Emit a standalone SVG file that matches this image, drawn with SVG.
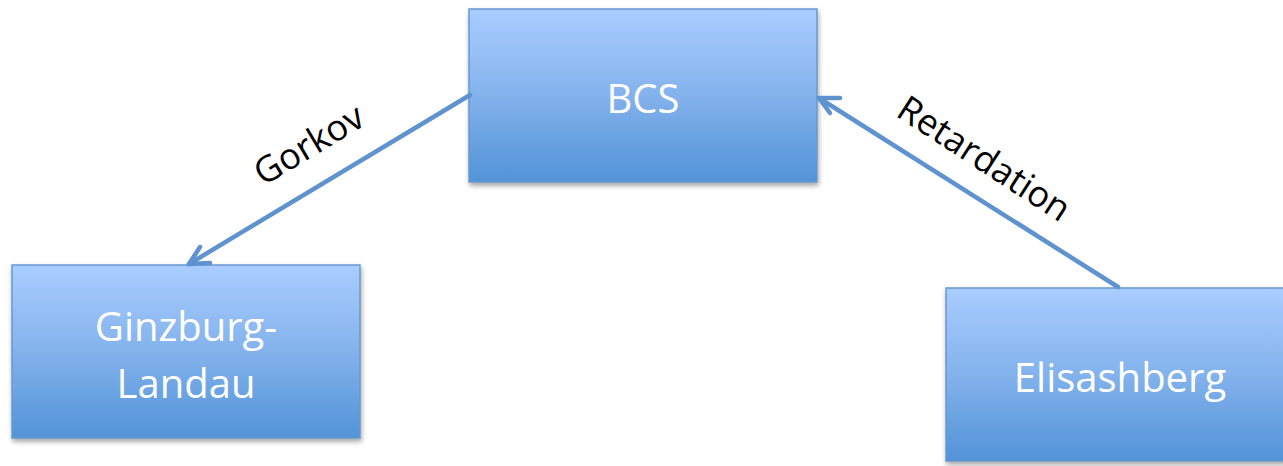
<svg xmlns="http://www.w3.org/2000/svg" width="1283" height="466" viewBox="0 0 1283 466">
<defs>
<linearGradient id="g" x1="0" y1="0" x2="0" y2="1">
<stop offset="0" stop-color="#a9cdff"/>
<stop offset="0.5" stop-color="#83b2ec"/>
<stop offset="1" stop-color="#5293d8"/>
</linearGradient>
<filter id="sh" x="-10%" y="-10%" width="125%" height="130%">
<feDropShadow dx="1" dy="3" stdDeviation="2.5" flood-color="#000" flood-opacity="0.35"/>
</filter>
</defs>
<style>
.box{fill:url(#g);stroke:#6798cf;stroke-width:1.5;filter:url(#sh)}
.nt{font-family:"Open Sans","Liberation Sans",sans-serif;font-size:40px;fill:#fff;text-anchor:middle}
.lb{font-family:"Open Sans","Liberation Sans",sans-serif;font-size:36px;fill:#000;text-anchor:middle}
.cn{stroke:#5f93cf;stroke-width:4.5;fill:none;stroke-linecap:round;stroke-linejoin:round}
</style>
<g id="bcs">
<rect class="box" x="469" y="9" width="348" height="173"/>
<text class="nt" x="643" y="113">BCS</text>
</g>
<g id="ginzburg-landau">
<rect class="box" x="12" y="265" width="348" height="173"/>
<text class="nt" x="186" y="341">Ginzburg-</text>
<text class="nt" x="186" y="398">Landau</text>
</g>
<g id="elisashberg">
<rect class="box" x="946" y="288" width="348" height="173"/>
<text class="nt" x="1120" y="392">Elisashberg</text>
</g>
<g id="connectors">
<path class="cn" d="M470,95 L189,264"/>
<path class="cn" d="M200,247 L189,264 L210,263"/>
<path class="cn" d="M1118,287 L819,98"/>
<path class="cn" d="M840,98 L819,98 L830,113"/>
<text class="lb" transform="translate(309,145) rotate(-31)" y="12">Gorkov</text>
<text class="lb" transform="translate(984,159) rotate(33)" y="12">Retardation</text>
</g>
</svg>
